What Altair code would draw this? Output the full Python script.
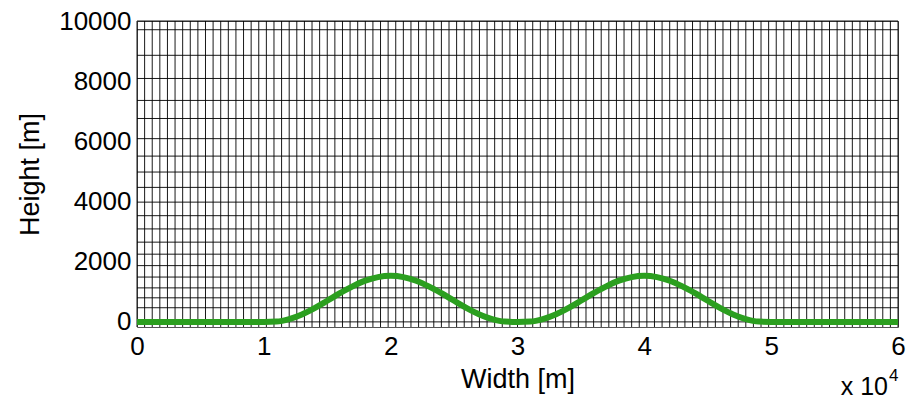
import altair as alt
import pandas as pd

# Mesh grid columns (every 600 m) and stretched grid levels (m)
grid_x = [i * 600 for i in range(101)]
grid_h = [0, 470, 800, 1130, 1490, 1870, 2250, 2650, 3090, 3530, 3980,
          4470, 4980, 5510, 6090, 6760, 7360, 8090, 8860, 9710, 10000]

# Terrain profile (m)
terrain_x = [0, 1000, 2000, 3000, 4000, 5000, 6000, 7000, 8000, 9000, 10000,
             11000, 12000, 13000, 14000, 15000, 16000, 17000, 18000, 19000, 20000,
             21000, 22000, 23000, 24000, 25000, 26000, 27000, 28000, 29000, 30000,
             31000, 32000, 33000, 34000, 35000, 36000, 37000, 38000, 39000, 40000,
             41000, 42000, 43000, 44000, 45000, 46000, 47000, 48000, 49000, 50000,
             51000, 52000, 53000, 54000, 55000, 56000, 57000, 58000, 59000, 60000]
terrain_h = [0, 0, 0, 0, 0, 0, 0, 0, 0, 0, 0,
             10, 92, 247, 458, 702, 953, 1182, 1369, 1489, 1530,
             1489, 1369, 1182, 953, 702, 458, 247, 92, 10, 0,
             10, 92, 247, 458, 702, 953, 1182, 1369, 1489, 1530,
             1489, 1369, 1182, 953, 702, 458, 247, 92, 10, 0,
             0, 0, 0, 0, 0, 0, 0, 0, 0, 0]

x_ticks = [0, 10000, 20000, 30000, 40000, 50000, 60000]
y_ticks = [0, 2000, 4000, 6000, 8000, 10000]

FONT = "Liberation Sans"
xscale = alt.Scale(domain=[0, 60000], nice=False, zero=False)
yscale = alt.Scale(domain=[-170, 10000], nice=False, zero=False)

vlines = alt.Chart(pd.DataFrame({"x": grid_x})).mark_rule(
    color="black", strokeWidth=1, opacity=0.9
).encode(
    x=alt.X("x:Q", scale=xscale,
            axis=alt.Axis(values=x_ticks, labelExpr="datum.value / 10000",
                          title="Width [m]", titlePadding=7, labelPadding=6))
)

hlines = alt.Chart(pd.DataFrame({"h": grid_h})).mark_rule(
    color="black", strokeWidth=1, opacity=0.9
).encode(
    y=alt.Y("h:Q", scale=yscale,
            axis=alt.Axis(values=y_ticks, format="d", title="Height [m]",
                          titlePadding=14, labelPadding=6))
)

terrain = alt.Chart(pd.DataFrame({"x": terrain_x, "h": terrain_h})).mark_line(
    color="#2b9f1f", strokeWidth=6, interpolate="monotone", clip=True
).encode(
    x=alt.X("x:Q", scale=xscale),
    y=alt.Y("h:Q", scale=yscale),
)

mult = alt.Chart(pd.DataFrame({"t": ["x 10"]})).mark_text(
    font=FONT, fontSize=25, align="right", baseline="alphabetic", color="black"
).encode(text="t:N", x=alt.value(751), y=alt.value(374))

expo = alt.Chart(pd.DataFrame({"t": ["4"]})).mark_text(
    font=FONT, fontSize=17, align="left", baseline="alphabetic", color="black"
).encode(text="t:N", x=alt.value(752), y=alt.value(360))

chart = alt.layer(vlines, hlines, terrain, mult, expo).properties(
    width=761, height=306,
    autosize=alt.AutoSizeParams(type="none"),
    padding={"left": 137, "top": 21, "right": 19, "bottom": 73},
).configure_view(
    stroke="#555", strokeWidth=1
).configure_axis(
    labelFont=FONT, labelFontSize=26, labelColor="black",
    titleFont=FONT, titleFontSize=27, titleFontWeight="normal", titleColor="black",
    domain=False, ticks=False, grid=False, labelFlush=False, labelOverlap=False
)

chart.save("out.html", embed_options={"renderer": "svg", "actions": False})
